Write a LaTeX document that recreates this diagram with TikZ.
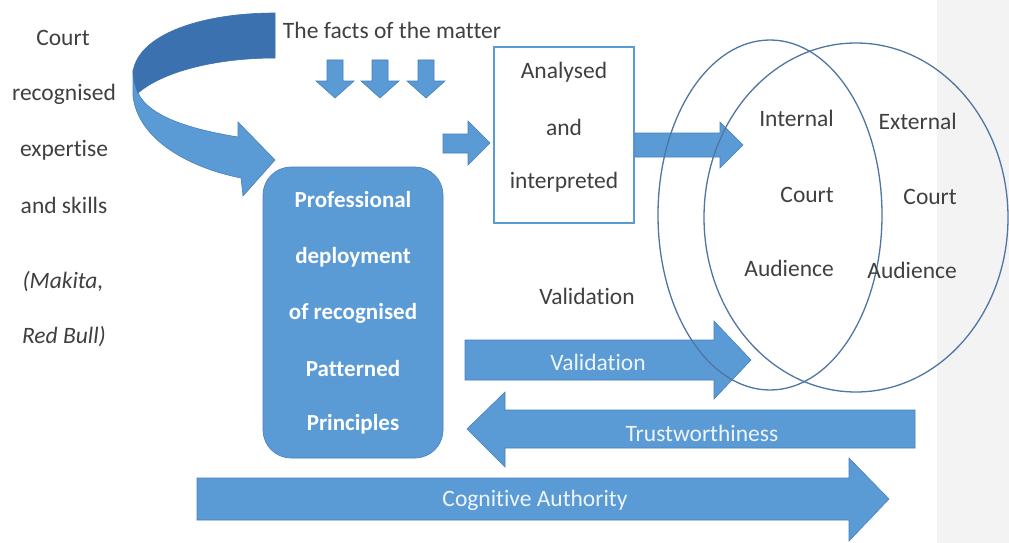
\documentclass[tikz,border=0pt]{standalone}
\usepackage{fontspec}
\setmainfont{Carlito}[Ligatures=NoCommon]
\usetikzlibrary{shapes.geometric}
\definecolor{blu}{RGB}{91,155,213}
\definecolor{bluline}{RGB}{72,128,188}
\definecolor{bludark}{RGB}{58,113,174}
\definecolor{ellc}{RGB}{78,118,162}
\definecolor{txt}{RGB}{64,64,64}
\definecolor{wtxt}{RGB}{238,244,250}
\definecolor{strip}{RGB}{243,243,243}
\tikzset{
  blk/.style={fill=blu, draw=bluline, line width=0.6pt, line join=miter},
  lbl/.style={font=\fontsize{23.5}{28}\selectfont, text=txt, inner sep=0pt, anchor=center},
  rlbl/.style={lbl, anchor=east},
  wlbl/.style={font=\fontsize{23.5}{28}\selectfont, text=wtxt, inner sep=0pt, anchor=center},
  bwlbl/.style={font=\fontsize{23}{28}\selectfont\bfseries, text=white, inner sep=0pt, anchor=center},
  venn/.style={ellipse, draw=ellc, line width=1.3pt, inner sep=0pt},
}
\begin{document}
\begin{tikzpicture}[x=1pt,y=-1pt]
\useasboundingbox (0,0) rectangle (1009,543);
\fill[white] (0,0) rectangle (1009,543);
\fill[strip] (937,0) rectangle (1009,543);

% left text
\node[lbl] (t1) at (63,38) {Court};
\node[lbl] (t2) at (64,94) {recognised};
\node[lbl] (t3) at (64,150) {expertise};
\node[lbl] (t4) at (64,205) {and skills};
\node[lbl] (t5) at (63,282) {\itshape (Makita,};
\node[lbl] (t6) at (64,337) {\itshape Red Bull)};

% curved arrow
\path[blk] (133,72) -- (133,96) .. controls (138,140) and (190,168) .. (241,178)
  -- (243,196) -- (275,160) -- (238,122) -- (238,137)
  .. controls (195,130) and (150,118) .. (138,93) -- cycle;
\path[fill=bludark, draw=bludark, line width=0.6pt] (275,13) .. controls (200,13) and (138,35) .. (133,72)
  .. controls (134,82) and (136,88) .. (138,93)
  .. controls (165,70) and (220,58) .. (275,58) -- cycle;

% facts
\node[lbl] (facts) at (392,30) {The facts of the matter};
\foreach \cx in {335,380,426}{
  \path[blk] (\cx-8,60) -- (\cx+8,60) -- (\cx+8,81) -- (\cx+19,81) -- (\cx,98) -- (\cx-19,81) -- (\cx-8,81) -- cycle;
}

% professional box
\node[fill=blu, draw=bluline, line width=0.6pt, rounded corners=28pt, minimum width=180pt, minimum height=291pt, inner sep=0pt] (prof) at (353,312.5) {};
\node[bwlbl] (p1) at (353,200) {Professional};
\node[bwlbl] (p2) at (353,257) {deployment};
\node[bwlbl] (p3) at (353,313) {of recognised};
\node[bwlbl] (p4) at (353,369) {Patterned};
\node[bwlbl] (p5) at (353,424) {Principles};

% small arrow
\path[blk] (443,134) -- (468,134) -- (468,121) -- (490,143) -- (468,165) -- (468,153) -- (443,153) -- cycle;

% analysed box
\node[draw=blu, line width=1.8pt, fill=white, minimum width=140pt, minimum height=176pt, inner sep=0pt] (ana) at (564,135) {};
\node[lbl] (a1) at (564,72) {Analysed};
\node[lbl] (a2) at (564,127) {and};
\node[lbl] (a3) at (564,182) {interpreted};

% big arrow
\path[blk] (ana.east |- 0,133) -- (720,133) -- (720,122) -- (743,145) -- (720,168) -- (720,157) -- (ana.east |- 0,157) -- cycle;

% validation text
\node[lbl] (val) at (587,296) {Validation};

% validation arrow
\path[blk] (465,340) -- (714,340) -- (714,321) -- (751,360) -- (714,399) -- (714,380) -- (465,380) -- cycle;
\node[wlbl] (vala) at (598,362) {Validation};

% trust arrow
\path[blk] (915,410) -- (505,410) -- (505,392) -- (467,429) -- (505,467) -- (505,448) -- (915,448) -- cycle;
\node[wlbl] (trust) at (702,433) {Trustworthiness};

% cognitive arrow
\path[blk] (197,478) -- (849,478) -- (849,458) -- (889,499) -- (849,541) -- (849,520) -- (197,520) -- cycle;
\node[wlbl] (cog) at (535,500) {Cognitive Authority};

% venn
\node[venn, minimum width=224pt, minimum height=350pt] (inner) at (770,215) {};
\node[venn, minimum width=304pt, minimum height=349pt] (outer) at (856,217.5) {};

\node[rlbl] (i1) at (834,118) {Internal};
\node[rlbl] (i2) at (834,195) {Court};
\node[rlbl] (i3) at (834,268) {Audience};
\node[rlbl] (e1) at (957,121) {External};
\node[rlbl] (e2) at (957,197) {Court};
\node[rlbl] (e3) at (957,270) {Audience};
\end{tikzpicture}
\end{document}
